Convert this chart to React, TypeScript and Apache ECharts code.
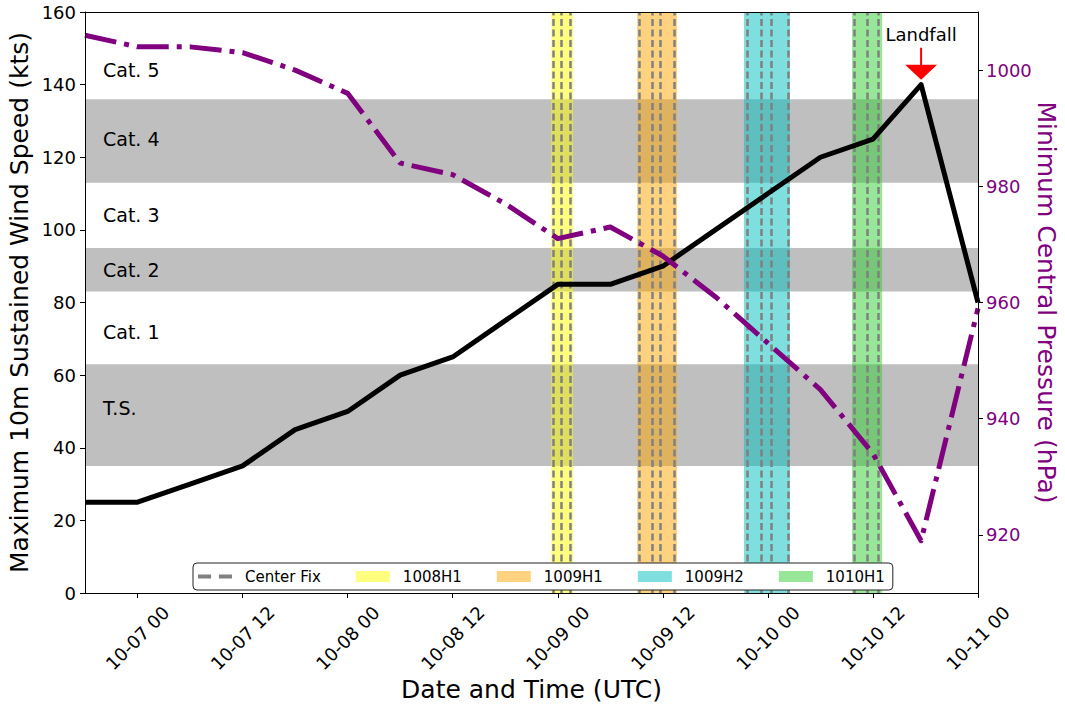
import React, { useEffect, useRef } from 'react';
import * as echarts from 'echarts';

const T = (s: string) =>
  Date.UTC(+s.slice(0, 4), +s.slice(5, 7) - 1, +s.slice(8, 10), +s.slice(11, 13), +s.slice(14, 16));

// Best-track style observations
const obTimes = [
  '2018-10-06 18:00', '2018-10-07 00:00', '2018-10-07 06:00', '2018-10-07 12:00', '2018-10-07 18:00',
  '2018-10-08 00:00', '2018-10-08 06:00', '2018-10-08 12:00', '2018-10-08 18:00', '2018-10-09 00:00',
  '2018-10-09 06:00', '2018-10-09 12:00', '2018-10-09 18:00', '2018-10-10 00:00', '2018-10-10 06:00',
  '2018-10-10 12:00', '2018-10-10 17:30', '2018-10-11 00:00',
];
const windKt = [25, 25, 30, 35, 45, 50, 60, 65, 75, 85, 85, 90, 100, 110, 120, 125, 140, 80];
const pressureHpa = [1006, 1004, 1004, 1003, 1000, 996, 984, 982, 977, 971, 973, 968, 961, 953, 945, 934, 919, 959];

const xTickTimes = [
  '2018-10-07 00:00', '2018-10-07 12:00', '2018-10-08 00:00', '2018-10-08 12:00', '2018-10-09 00:00',
  '2018-10-09 12:00', '2018-10-10 00:00', '2018-10-10 12:00', '2018-10-11 00:00',
];
const xMin = '2018-10-06 18:00';
const xMax = '2018-10-11 00:00';
const pressureTicks = [920, 940, 960, 980, 1000];

// Saffir-Simpson shading
const catBandLow = [35, 83, 113];
const catBandHigh = [63, 95, 136];
const catLabels = ['Cat. 5', 'Cat. 4', 'Cat. 3', 'Cat. 2', 'Cat. 1', 'T.S.'];
const catLabelWind = [144, 125, 104, 89, 72, 51];
const catLabelTime = '2018-10-06 20:00';

// Recon missions
const missions = ['1008H1', '1009H1', '1009H2', '1010H1'];
const missionStart = ['2018-10-08 23:15', '2018-10-09 09:04', '2018-10-09 21:16', '2018-10-10 09:37'];
const missionEnd = ['2018-10-09 01:44', '2018-10-09 13:37', '2018-10-10 02:31', '2018-10-10 13:03'];
const missionColors = ['rgba(255,255,0,0.5)', 'rgba(255,165,0,0.5)', 'rgba(0,191,191,0.5)', 'rgba(50,205,50,0.5)'];
const centerFixes = [
  '2018-10-08 23:27', '2018-10-09 00:22', '2018-10-09 01:24',
  '2018-10-09 09:17', '2018-10-09 10:47', '2018-10-09 11:41', '2018-10-09 13:17',
  '2018-10-09 21:37', '2018-10-09 23:13', '2018-10-10 00:22', '2018-10-10 02:17',
  '2018-10-10 09:50', '2018-10-10 11:20', '2018-10-10 12:35',
];
const landfallTime = '2018-10-10 17:30';
const landfallWind = 140;

const FONT = 'DejaVu Sans';
const pad = (n: number) => (n < 10 ? '0' + n : '' + n);
const fmtTime = (v: number) => {
  const d = new Date(v);
  return `${pad(d.getUTCMonth() + 1)}-${pad(d.getUTCDate())} ${pad(d.getUTCHours())}`;
};

const landfallPath = 'path://M0,17 L32,17 L16,32 Z M15,0 L17,0 L17,17 L15,17 Z';

function buildOption(): any {
  const windData = obTimes.map((t, i) => [T(t), windKt[i]]);
  const presData = obTimes.map((t, i) => [T(t), pressureHpa[i]]);
  const catData = catLabels.map((c, i) => ({ name: c, value: [T(catLabelTime), catLabelWind[i]] }));

  const missionSeries = missions.map((m, i) => ({
    name: m,
    type: 'bar',
    xAxisIndex: 0,
    yAxisIndex: 0,
    data: [],
    itemStyle: { color: missionColors[i] },
    silent: true,
    markArea: {
      z: 2,
      silent: true,
      itemStyle: { color: missionColors[i], borderWidth: 0 },
      label: { show: false },
      data: [[{ xAxis: T(missionStart[i]) }, { xAxis: T(missionEnd[i]) }]],
    },
  }));

  return {
    animation: false,
    backgroundColor: '#fff',
    textStyle: { fontFamily: FONT },
    grid: { left: 85, right: 87, top: 12, bottom: 115, outerBoundsMode: 'none' },
    legend: {
      z: 20,
      left: 193,
      top: 563,
      orient: 'horizontal',
      padding: [6, 8, 6, 5],
      itemGap: 35,
      itemWidth: 34,
      itemHeight: 11,
      backgroundColor: '#fff',
      borderColor: '#222',
      borderWidth: 1,
      borderRadius: 4,
      textStyle: { fontFamily: FONT, fontSize: 15, color: '#000', padding: [0, 0, 0, 8] },
      data: [
        { name: 'Center Fix', icon: 'path://M0,0 L10,0 L10,3 L0,3 Z M16,0 L26,0 L26,3 L16,3 Z', itemStyle: { color: '#808080' } },
        ...missions.map((m) => ({ name: m, icon: 'rect' })),
      ],
    },
    xAxis: [
      {
        type: 'value',
        position: 'bottom',
        min: T(xMin),
        max: T(xMax),
        z: 10,
        axisLine: { show: true, lineStyle: { color: '#000', width: 1 } },
        axisTick: { show: true, length: 5, lineStyle: { color: '#000' }, customValues: xTickTimes.map(T) },
        axisLabel: {
          customValues: xTickTimes.map(T),
          rotate: 45,
          align: 'center',
          verticalAlign: 'middle',
          margin: 45,
          fontSize: 18,
          color: '#000',
          fontFamily: FONT,
          formatter: (v: number) => fmtTime(v),
        },
        splitLine: { show: false },
        name: 'Date and Time (UTC)',
        nameLocation: 'middle',
        nameMoveOverlap: false,
        nameGap: 84,
        nameTextStyle: { fontSize: 25, color: '#000', fontFamily: FONT },
      },
      {
        type: 'value',
        position: 'top',
        min: T(xMin),
        max: T(xMax),
        z: 10,
        axisLine: { show: true, lineStyle: { color: '#000', width: 1 } },
        axisTick: { show: false },
        axisLabel: { show: false },
        splitLine: { show: false },
      },
    ],
    yAxis: [
      {
        type: 'value',
        position: 'left',
        min: 0,
        max: 160,
        interval: 20,
        z: 10,
        axisLine: { show: true, lineStyle: { color: '#000', width: 1 } },
        axisTick: { show: true, length: 5, lineStyle: { color: '#000' } },
        axisLabel: { fontSize: 18, color: '#000', margin: 9, fontFamily: FONT },
        splitLine: { show: false },
        name: 'Maximum 10m Sustained Wind Speed (kts)',
        nameLocation: 'middle',
        nameMoveOverlap: false,
        nameGap: 53,
        nameTextStyle: { fontSize: 25, color: '#000', fontFamily: FONT },
      },
      {
        type: 'value',
        position: 'right',
        min: 910,
        max: 1010,
        z: 10,
        axisLine: { show: true, lineStyle: { color: '#000', width: 1 } },
        axisTick: { show: true, length: 5, lineStyle: { color: '#000' }, customValues: pressureTicks },
        axisLabel: {
          customValues: pressureTicks,
          fontSize: 18,
          color: '#800080',
          margin: 8,
          fontFamily: FONT,
          formatter: (v: number) => String(v),
        },
        splitLine: { show: false },
        name: 'Minimum Central Pressure (hPa)',
        nameLocation: 'middle',
        nameMoveOverlap: false,
        nameRotate: -90,
        nameGap: 56,
        nameTextStyle: { fontSize: 25, color: '#800080', fontFamily: FONT },
      },
    ],
    series: [
      {
        name: 'categories',
        type: 'scatter',
        xAxisIndex: 0,
        yAxisIndex: 0,
        z: 5,
        silent: true,
        symbolSize: 1,
        itemStyle: { color: 'rgba(0,0,0,0)', opacity: 1 },
        label: {
          show: true,
          position: 'right',
          distance: 0,
          formatter: '{b}',
          fontSize: 19,
          color: '#000',
          opacity: 1,
          fontFamily: FONT,
        },
        data: catData,
        markArea: {
          z: 1,
          silent: true,
          itemStyle: { color: '#bfbfbf', borderWidth: 0 },
          label: { show: false },
          data: catBandLow.map((lo, i) => [{ yAxis: lo }, { yAxis: catBandHigh[i] }]),
        },
      },
      ...missionSeries,
      {
        name: 'Center Fix',
        type: 'line',
        xAxisIndex: 0,
        yAxisIndex: 0,
        data: [],
        symbol: 'none',
        itemStyle: { color: '#808080' },
        lineStyle: { color: '#808080', width: 2.5, type: [7, 3] },
        markLine: {
          z: 3,
          silent: true,
          symbol: ['none', 'none'],
          label: { show: false },
          lineStyle: { color: '#808080', width: 2.5, type: [7, 3.5] },
          data: centerFixes.map((t) => ({ xAxis: T(t) })),
        },
      },
      {
        name: 'Wind',
        type: 'line',
        xAxisIndex: 0,
        yAxisIndex: 0,
        z: 4,
        symbol: 'none',
        silent: true,
        lineStyle: { color: '#000', width: 5, join: 'round' },
        data: windData,
      },
      {
        name: 'Pressure',
        type: 'line',
        xAxisIndex: 0,
        yAxisIndex: 1,
        z: 4,
        symbol: 'none',
        silent: true,
        lineStyle: { color: '#800080', width: 5, type: [32, 8, 5, 8], join: 'round' },
        data: presData,
      },
      {
        name: 'Landfall',
        type: 'scatter',
        xAxisIndex: 0,
        yAxisIndex: 0,
        z: 6,
        silent: true,
        symbol: landfallPath,
        symbolSize: [32, 32],
        symbolOffset: [0, -21],
        itemStyle: { color: '#ff0000', opacity: 1 },
        label: {
          show: true,
          position: 'top',
          distance: 4,
          formatter: 'Landfall',
          fontSize: 18,
          color: '#000',
          opacity: 1,
          fontFamily: FONT,
        },
        data: [[T(landfallTime), landfallWind]],
      },
    ],
  };
}

export default function App() {
  const ref = useRef<HTMLDivElement>(null);
  useEffect(() => {
    const chart = echarts.init(ref.current as HTMLDivElement, null, { renderer: 'svg' });
    chart.setOption(buildOption());
    return () => chart.dispose();
  }, []);
  return (
    <div
      ref={ref}
      style={{ position: 'fixed', left: 0, top: 0, width: 1065, height: 708, background: '#fff' }}
    />
  );
}
